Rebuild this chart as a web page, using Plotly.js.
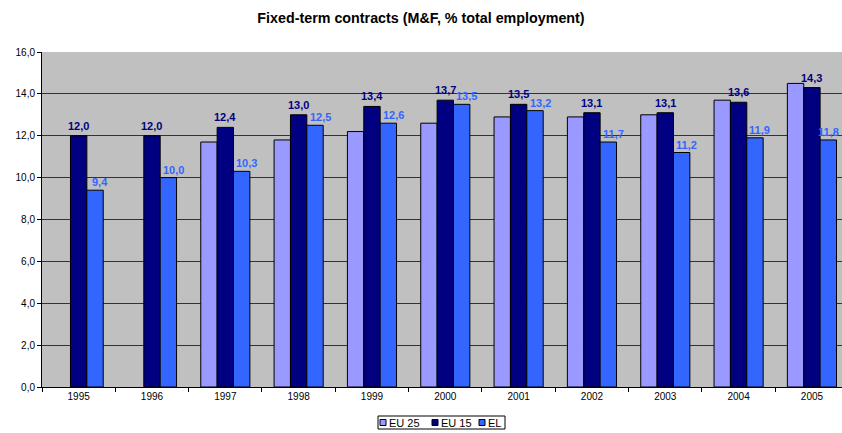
<!DOCTYPE html>
<html>
<head>
<meta charset="utf-8">
<script src="https://cdn.plot.ly/plotly-3.0.1.min.js"></script>
<style>html,body{margin:0;padding:0;background:#fff;}#chart{width:842px;height:433px;}</style>
</head>
<body>
<div id="chart"></div>
<script>
const years = ['1995','1996','1997','1998','1999','2000','2001','2002','2003','2004','2005'];
const eu25 = [null, null, 11.7, 11.8, 12.2, 12.6, 12.9, 12.9, 13.0, 13.7, 14.5];
const eu15 = [12.0, 12.0, 12.4, 13.0, 13.4, 13.7, 13.5, 13.1, 13.1, 13.6, 14.3];
const el = [9.4, 10.0, 10.3, 12.5, 12.6, 13.5, 13.2, 11.7, 11.2, 11.9, 11.8];
const seriesNames = ['EU 25', 'EU 15', 'EL'];
const seriesColors = ['#9999ff', '#000080', '#3366ff'];
const yTicks = [0, 2, 4, 6, 8, 10, 12, 14, 16];

const FONT = 'Arial, "Liberation Sans", sans-serif';
const line = {color: '#000', width: 1};
const W = 842, H = 433;
const M = {l: 42, r: 0, t: 52, b: 46};
const PW = W - M.l - M.r, PH = H - M.t - M.b;
const px = x => (x - M.l) / PW;
const py = y => (H - M.b - y) / PH;
const X_RANGE = [-0.5, 10.41];
const BARGAP = 0.33;
const barPx = PW / (X_RANGE[1] - X_RANGE[0]) * (1 - BARGAP) / 3;

const traces = [
  {type: 'bar', name: seriesNames[0], x: years, y: eu25,
   marker: {color: seriesColors[0], line: line}},
  {type: 'bar', name: seriesNames[1], x: years, y: eu15,
   marker: {color: seriesColors[1], line: line}},
  {type: 'bar', name: seriesNames[2], x: years, y: el,
   marker: {color: seriesColors[2], line: line}}
];

const annotations = [];
const fmt = v => v.toFixed(1).replace('.', ',');
// value labels for EU 15 (middle bar) and EL (right bar); x = category index
years.forEach((yr, i) => {
  annotations.push({x: i, y: eu15[i], xref: 'x', yref: 'y', text: '<b>' + fmt(eu15[i]) + '</b>',
    showarrow: false, xanchor: 'center', yanchor: 'bottom', xshift: 0, yshift: 2,
    font: {family: FONT, size: 11, color: '#000080'}});
  const last = i === years.length - 1;
  annotations.push({x: i, y: el[i], xref: 'x', yref: 'y', text: '<b>' + fmt(el[i]) + '</b>',
    showarrow: false, xanchor: 'center', yanchor: 'bottom', xshift: barPx + (last ? 0 : 5), yshift: 0,
    font: {family: FONT, size: 11, color: '#3366ff'}});
});

// custom compact legend (Excel style)
const shapes = [
  {type: 'rect', xref: 'paper', yref: 'paper', x0: px(378), x1: px(505), y0: py(429), y1: py(416),
   line: {color: '#000', width: 1}, fillcolor: '#fff'}
];
const sqX = [380, 432, 479];
for (let i = 0; i < 3; i++) {
  shapes.push({type: 'rect', xref: 'paper', yref: 'paper',
    x0: px(sqX[i]), x1: px(sqX[i] + 6), y0: py(425.5), y1: py(419.5),
    line: {color: '#000', width: 1}, fillcolor: seriesColors[i]});
  annotations.push({xref: 'paper', yref: 'paper', x: px(sqX[i] + 7), y: py(422.5),
    xanchor: 'left', yanchor: 'middle', showarrow: false, text: seriesNames[i],
    font: {family: FONT, size: 11, color: '#000'}});
}

const layout = {
  width: W, height: H,
  margin: M,
  paper_bgcolor: '#ffffff',
  plot_bgcolor: '#c0c0c0',
  separators: ',.',
  font: {family: FONT, size: 10, color: '#000'},
  title: {text: '<b>Fixed-term contracts (M&F, % total employment)</b>',
          font: {family: FONT, size: 14.3, color: '#000'},
          x: 0.5, xanchor: 'center', y: 0.958, yanchor: 'middle'},
  barmode: 'group',
  bargap: BARGAP,
  bargroupgap: 0,
  showlegend: false,
  shapes: shapes,
  annotations: annotations,
  xaxis: {type: 'category', range: X_RANGE, showgrid: false,
          showline: true, linecolor: '#000', linewidth: 1,
          ticks: 'outside', ticklen: 4, tickcolor: '#000', tickson: 'boundaries',
          tickfont: {family: FONT, size: 10, color: '#000'}, fixedrange: true},
  yaxis: {range: [0, 16], tickvals: yTicks, tickformat: '.1f',
          showgrid: true, gridcolor: '#333', gridwidth: 1,
          showline: true, linecolor: '#000', linewidth: 1,
          ticks: 'outside', ticklen: 4, tickcolor: '#000', zeroline: false,
          tickfont: {family: FONT, size: 10, color: '#000'}, fixedrange: true}
};

Plotly.newPlot('chart', traces, layout, {displayModeBar: false, staticPlot: true});
</script>
</body>
</html>
